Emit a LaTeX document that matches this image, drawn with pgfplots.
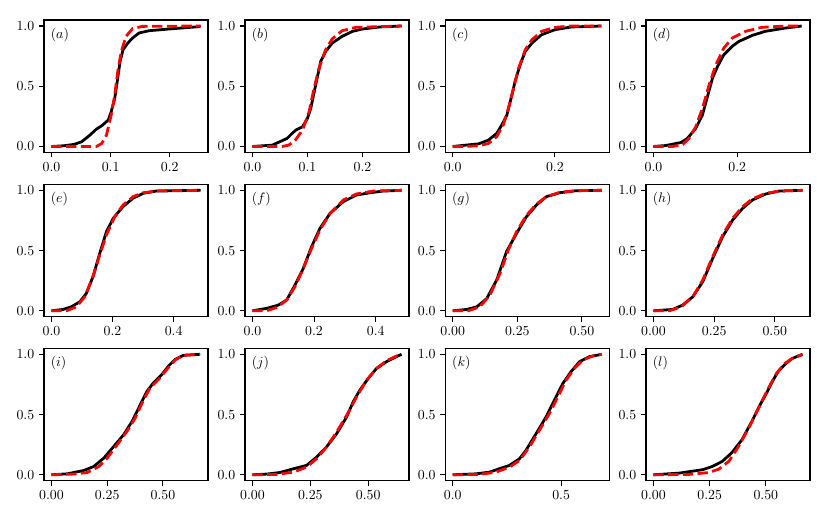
\documentclass[border=0pt]{standalone}
\usepackage{pgfplots}
\pgfplotsset{compat=1.18}
\pgfplotsset{
  panel/.style={
    scale only axis, width=118.08bp, height=95.4bp, anchor=north west,
    ymin=-0.05, ymax=1.05, ytick={0,0.5,1}, yticklabels={$0.0$,$0.5$,$1.0$},
    tick align=outside, major tick length=3.5bp,
    axis line style={line width=0.8bp},
    every tick/.style={black, line width=0.8bp},
    xtick pos=bottom, ytick pos=left,
    tick label style={font=\normalsize},
  },
  emp/.style={black, line width=2bp, line join=round},
  fit/.style={red, line width=2bp, dash pattern=on 7.4bp off 3.2bp, line join=round},
}
\newcommand{\plab}[1]{\node[anchor=north west, inner sep=0pt] at (rel axis cs:0.04,0.94) {$(#1)$};}
\begin{document}
\begin{tikzpicture}
\path (0,0) rectangle (597.6bp,373.68bp);
% (a)
\begin{axis}[panel, at={(31.68bp,359.28bp)}, xmin=-0.0126, xmax=0.2646, xtick={0,0.1,0.2}, xticklabels={$0.0$,$0.1$,$0.2$}]
\addplot[emp] coordinates {(0,0) (0.021,0.006) (0.038,0.017) (0.051,0.039) (0.065,0.094) (0.076,0.144) (0.085,0.172) (0.096,0.219) (0.101,0.289) (0.107,0.40) (0.112,0.567) (0.116,0.706) (0.121,0.803) (0.129,0.858) (0.137,0.90) (0.148,0.942) (0.165,0.961) (0.198,0.975) (0.248,0.994) (0.252,1)};
\addplot[fit] coordinates {(0,0) (0.076,0) (0.085,0.025) (0.093,0.094) (0.101,0.261) (0.107,0.428) (0.112,0.622) (0.118,0.789) (0.126,0.914) (0.137,0.978) (0.154,0.997) (0.252,1)};
\plab{a}
\end{axis}
% (b)
\begin{axis}[panel, at={(176.4bp,359.28bp)}, xmin=-0.01355, xmax=0.28455, xtick={0,0.1,0.2}, xticklabels={$0.0$,$0.1$,$0.2$}]
\addplot[emp] coordinates {(0,0) (0.036,0.011) (0.063,0.067) (0.072,0.108) (0.079,0.136) (0.091,0.164) (0.1,0.233) (0.106,0.317) (0.115,0.511) (0.124,0.706) (0.133,0.789) (0.145,0.858) (0.163,0.914) (0.182,0.956) (0.2,0.975) (0.231,0.992) (0.271,1)};
\addplot[fit] coordinates {(0,0) (0.054,0) (0.066,0.011) (0.078,0.053) (0.091,0.136) (0.103,0.289) (0.112,0.483) (0.121,0.65) (0.133,0.803) (0.145,0.894) (0.163,0.961) (0.188,0.989) (0.271,1)};
\plab{b}
\end{axis}
% (c)
\begin{axis}[panel, at={(320.6bp,359.28bp)}, xmin=-0.0146, xmax=0.3066, xtick={0,0.2}, xticklabels={$0.0$,$0.2$}]
\addplot[emp] coordinates {(0,0) (0.025,0.011) (0.051,0.022) (0.07,0.053) (0.086,0.108) (0.096,0.178) (0.106,0.261) (0.116,0.428) (0.122,0.539) (0.132,0.678) (0.142,0.789) (0.155,0.858) (0.174,0.928) (0.2,0.969) (0.232,0.992) (0.291,1)};
\addplot[fit] coordinates {(0,0) (0.025,0) (0.051,0.006) (0.07,0.025) (0.086,0.081) (0.099,0.178) (0.109,0.317) (0.119,0.483) (0.129,0.65) (0.142,0.803) (0.155,0.886) (0.174,0.956) (0.2,0.989) (0.232,1) (0.291,1)};
\plab{c}
\end{axis}
% (d)
\begin{axis}[panel, at={(465.1bp,359.28bp)}, xmin=-0.0178, xmax=0.3738, xtick={0,0.2}, xticklabels={$0.0$,$0.2$}]
\addplot[emp] coordinates {(0,0) (0.03,0.008) (0.066,0.033) (0.081,0.067) (0.101,0.15) (0.117,0.261) (0.129,0.414) (0.141,0.567) (0.153,0.664) (0.168,0.761) (0.188,0.831) (0.204,0.872) (0.236,0.922) (0.267,0.956) (0.315,0.983) (0.354,1)};
\addplot[fit] coordinates {(0,0) (0.046,0) (0.07,0.017) (0.085,0.067) (0.101,0.164) (0.117,0.317) (0.133,0.511) (0.149,0.678) (0.168,0.817) (0.188,0.90) (0.22,0.956) (0.259,0.989) (0.315,1) (0.354,1)};
\plab{d}
\end{axis}
% (e)
\begin{axis}[panel, at={(31.68bp,240.98bp)}, xmin=-0.0244, xmax=0.5124, xtick={0,0.2,0.4}, xticklabels={$0.0$,$0.2$,$0.4$}]
\addplot[emp] coordinates {(0,0) (0.038,0.011) (0.065,0.033) (0.093,0.075) (0.114,0.144) (0.136,0.283) (0.158,0.476) (0.180,0.657) (0.202,0.767) (0.234,0.864) (0.267,0.934) (0.300,0.975) (0.343,0.994) (0.488,1)};
\addplot[fit] coordinates {(0,0) (0.049,0) (0.082,0.033) (0.109,0.116) (0.136,0.283) (0.158,0.463) (0.180,0.63) (0.207,0.78) (0.234,0.878) (0.267,0.947) (0.300,0.98) (0.354,0.997) (0.488,1)};
\plab{e}
\end{axis}
% (f)
\begin{axis}[panel, at={(176.4bp,240.98bp)}, xmin=-0.0242, xmax=0.5082, xtick={0,0.2,0.4}, xticklabels={$0.0$,$0.2$,$0.4$}]
\addplot[emp] coordinates {(0,0) (0.046,0.02) (0.084,0.047) (0.111,0.089) (0.138,0.213) (0.165,0.352) (0.192,0.532) (0.219,0.684) (0.252,0.809) (0.295,0.906) (0.338,0.961) (0.382,0.98) (0.425,0.994) (0.484,1)};
\addplot[fit] coordinates {(0,0) (0.046,0) (0.079,0.028) (0.111,0.089) (0.138,0.2) (0.165,0.352) (0.192,0.518) (0.219,0.67) (0.252,0.809) (0.295,0.92) (0.338,0.97) (0.392,0.994) (0.484,1)};
\plab{f}
\end{axis}
% (g)
\begin{axis}[panel, at={(320.6bp,240.98bp)}, xmin=-0.0289, xmax=0.6059, xtick={0,0.25,0.5}, xticklabels={$0.00$,$0.25$,$0.50$}]
\addplot[emp] coordinates {(0,0) (0.054,0.011) (0.093,0.033) (0.131,0.10) (0.170,0.255) (0.208,0.49) (0.247,0.643) (0.285,0.78) (0.324,0.878) (0.362,0.947) (0.414,0.98) (0.478,0.997) (0.577,1)};
\addplot[fit] coordinates {(0,0) (0.06,0) (0.105,0.033) (0.144,0.13) (0.183,0.31) (0.215,0.504) (0.247,0.657) (0.285,0.792) (0.324,0.886) (0.362,0.947) (0.414,0.983) (0.478,0.997) (0.577,1)};
\plab{g}
\end{axis}
% (h)
\begin{axis}[panel, at={(465.1bp,240.98bp)}, xmin=-0.0307, xmax=0.6447, xtick={0,0.25,0.5}, xticklabels={$0.00$,$0.25$,$0.50$}]
\addplot[emp] coordinates {(0,0) (0.079,0.011) (0.12,0.047) (0.162,0.116) (0.203,0.241) (0.244,0.435) (0.285,0.615) (0.326,0.753) (0.367,0.85) (0.408,0.92) (0.463,0.97) (0.518,0.994) (0.614,1)};
\addplot[fit] coordinates {(0,0) (0.066,0) (0.114,0.033) (0.162,0.116) (0.203,0.255) (0.244,0.449) (0.285,0.629) (0.326,0.767) (0.367,0.864) (0.408,0.93) (0.463,0.975) (0.518,0.994) (0.614,1)};
\plab{h}
\end{axis}
% (i)
\begin{axis}[panel, at={(31.68bp,122.9bp)}, xmin=-0.0335, xmax=0.7025, xtick={0,0.25,0.5}, xticklabels={$0.00$,$0.25$,$0.50$}]
\addplot[emp] coordinates {(0,0) (0.071,0.008) (0.146,0.036) (0.19,0.069) (0.235,0.139) (0.28,0.236) (0.324,0.333) (0.362,0.444) (0.399,0.583) (0.429,0.694) (0.458,0.764) (0.496,0.833) (0.525,0.903) (0.555,0.958) (0.592,0.992) (0.667,1)};
\addplot[fit] coordinates {(0,0) (0.101,0.006) (0.161,0.019) (0.213,0.069) (0.25,0.139) (0.295,0.25) (0.339,0.361) (0.376,0.472) (0.414,0.625) (0.443,0.722) (0.481,0.792) (0.518,0.875) (0.555,0.953) (0.592,0.992) (0.667,1)};
\plab{i}
\end{axis}
% (j)
\begin{axis}[panel, at={(176.4bp,122.9bp)}, xmin=-0.0322, xmax=0.6762, xtick={0,0.25,0.5}, xticklabels={$0.00$,$0.25$,$0.50$}]
\addplot[emp] coordinates {(0,0) (0.062,0.006) (0.119,0.019) (0.177,0.05) (0.234,0.078) (0.277,0.147) (0.320,0.231) (0.364,0.342) (0.407,0.481) (0.435,0.606) (0.464,0.703) (0.5,0.8) (0.536,0.883) (0.579,0.939) (0.622,0.981) (0.644,1)};
\addplot[fit] coordinates {(0,0) (0.105,0.003) (0.177,0.022) (0.234,0.064) (0.277,0.133) (0.320,0.231) (0.364,0.356) (0.407,0.494) (0.45,0.647) (0.493,0.786) (0.536,0.883) (0.579,0.947) (0.622,0.986) (0.644,1)};
\plab{j}
\end{axis}
% (k)
\begin{axis}[panel, at={(320.6bp,122.9bp)}, xmin=-0.0344, xmax=0.7224, xtick={0,0.5}, xticklabels={$0.0$,$0.5$}]
\addplot[emp] coordinates {(0,0) (0.108,0.008) (0.169,0.022) (0.215,0.05) (0.262,0.078) (0.308,0.133) (0.338,0.203) (0.385,0.342) (0.431,0.481) (0.469,0.619) (0.508,0.758) (0.546,0.856) (0.585,0.939) (0.631,0.981) (0.688,1)};
\addplot[fit] coordinates {(0,0) (0.123,0.003) (0.2,0.022) (0.262,0.064) (0.308,0.119) (0.354,0.231) (0.4,0.369) (0.446,0.508) (0.485,0.647) (0.523,0.786) (0.562,0.883) (0.6,0.953) (0.646,0.986) (0.688,1)};
\plab{k}
\end{axis}
% (l)
\begin{axis}[panel, at={(465.1bp,122.9bp)}, xmin=-0.0332, xmax=0.6962, xtick={0,0.25,0.5}, xticklabels={$0.00$,$0.25$,$0.50$}]
\addplot[emp] coordinates {(0,0) (0.115,0.014) (0.218,0.042) (0.262,0.069) (0.306,0.111) (0.350,0.186) (0.394,0.292) (0.438,0.444) (0.475,0.583) (0.504,0.681) (0.534,0.792) (0.556,0.861) (0.585,0.917) (0.615,0.964) (0.663,1)};
\addplot[fit] coordinates {(0,0) (0.159,0.003) (0.247,0.019) (0.291,0.047) (0.335,0.111) (0.379,0.236) (0.424,0.389) (0.468,0.556) (0.512,0.722) (0.549,0.847) (0.585,0.925) (0.622,0.972) (0.663,0.997)};
\plab{l}
\end{axis}
\end{tikzpicture}
\end{document}
